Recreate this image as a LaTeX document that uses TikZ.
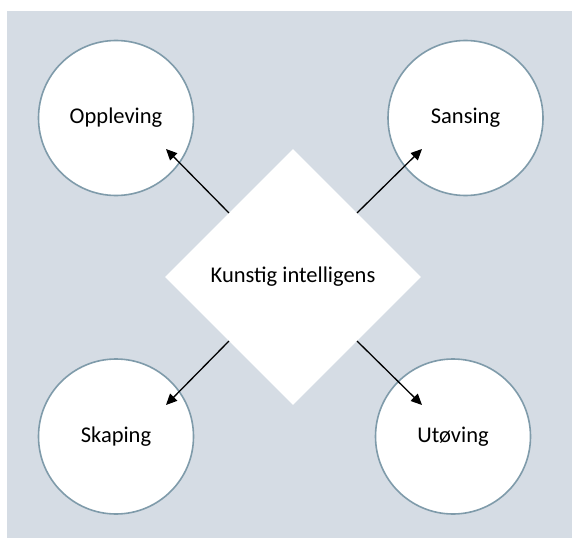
\documentclass[tikz,border=0pt]{standalone}
\usepackage{fontspec}
\setmainfont{Carlito}
\usetikzlibrary{shapes.geometric,arrows.meta}
\definecolor{bgc}{HTML}{D5DCE4}
\definecolor{ringc}{HTML}{7F9BAA}
\tikzset{
  circ/.style={circle,draw=ringc,line width=1.6bp,fill=white,minimum size=155bp,inner sep=0pt,
    font=\fontsize{22.5bp}{27bp}\selectfont},
  dia/.style={diamond,fill=white,minimum width=256bp,minimum height=256bp,inner sep=0pt,
    font=\fontsize{22.5bp}{27bp}\selectfont},
  arr/.style={line width=1.3bp,-{Triangle[length=11bp,width=10bp]}}
}
\begin{document}
\begin{tikzpicture}[x=1bp,y=-1bp]
\useasboundingbox (0,0) rectangle (572,538);
\fill[bgc] (7,11) rectangle (571.5,538);
\node[circ] (opp) at (116,118) {Oppleving};
\node[circ] (san) at (465.5,118) {Sansing};
\node[circ] (ska) at (116,436.5) {Skaping};
\node[circ] (uto) at (453,436.5) {Utøving};
\node[dia] (ki) at (293,277) {Kunstig intelligens};
\coordinate (topp) at (166,149);
\coordinate (tsan) at (422,149);
\coordinate (tska) at (166,405);
\coordinate (tuto) at (422,405);
\draw[arr] (ki.north west) -- (topp);
\draw[arr] (ki.north east) -- (tsan);
\draw[arr] (ki.south west) -- (tska);
\draw[arr] (ki.south east) -- (tuto);
\end{tikzpicture}
\end{document}
